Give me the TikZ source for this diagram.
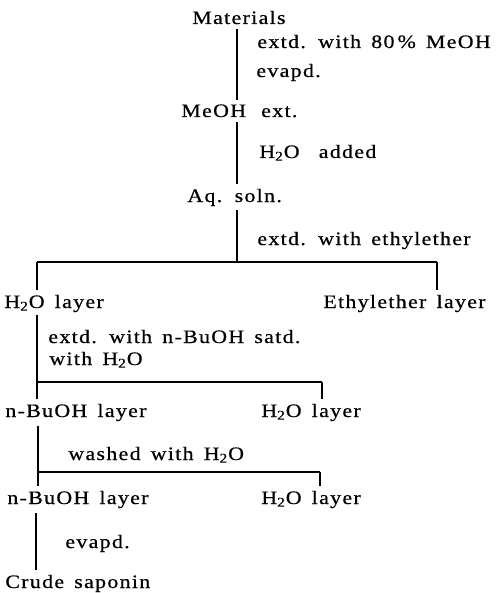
\documentclass[tikz,border=0pt]{standalone}
\usepackage{fontspec}
\setmainfont{Liberation Serif}[FakeStretch=1.15,LetterSpace=7,WordSpace=1.5,FakeBold=0.6]
\usetikzlibrary{positioning}
\tikzset{
  txt/.style={anchor=base west, inner sep=0pt, font=\fontsize{9.5}{11}\selectfont},
  conn/.style={line width=1pt},
  tonode/.style={conn, shorten >=2pt},
  trunk/.style={conn, shorten >=2pt, shorten <=2pt},
}

\begin{document}
\begin{tikzpicture}[x=0.5pt,y=-0.5pt]
  \useasboundingbox (0,0) rectangle (496,593);
  % fractions
  \node[txt] (mat) at (192,24) {Materials};
  \node[txt] (meoh) at (181,117) {MeOH\hspace{2.5pt} ext.};
  \node[txt] (aq) at (187,202) {Aq. soln.};
  \node[txt] (wat1) at (4,308) {H\textsubscript{2}O layer};
  \node[txt] (eth) at (323,308) {Ethylether layer};
  \node[txt] (but1) at (5,417) {n-BuOH layer};
  \node[txt] (wat2) at (261,417) {H\textsubscript{2}O layer};
  \node[txt] (but2) at (7,504) {n-BuOH layer};
  \node[txt] (wat3) at (261,504) {H\textsubscript{2}O layer};
  \node[txt] (crude) at (5,588) {Crude saponin};
  % operations
  \node[txt] (op1) at (257,48) {extd. with 80\,\% MeOH};
  \node[txt] (op1b) at (256,77) {evapd.};
  \node[txt] (op2) at (259,158) {H\textsubscript{2}O\hspace{4.5pt} added};
  \node[txt] (op3) at (257,245) {extd. with ethylether};
  \node[txt] (op4) at (48,343) {extd. with\ n-BuOH satd.};
  \node[txt] (op4b) at (49,365) {with H\textsubscript{2}O};
  \node[txt] (op5) at (68,460) {washed with H\textsubscript{2}O};
  \node[txt] (op6) at (65,548) {evapd.};
  % forks
  \coordinate (fork1) at (237,262);
  \coordinate (fork1l) at (37,262);
  \coordinate (fork1r) at (437,262);
  \coordinate (fork2l) at (37,382);
  \coordinate (fork2r) at (322,382);
  \coordinate (fork3l) at (38,472);
  \coordinate (fork3r) at (320,472);
  % lines
  \draw[trunk] (fork1 |- mat.south) -- (fork1 |- meoh.north);
  \draw[trunk] (fork1 |- meoh.south) -- (fork1 |- aq.north);
  \draw[conn, shorten <=2pt] (fork1 |- aq.south) -- (fork1);
  \draw[conn] (fork1l) -- (fork1r);
  \draw[tonode] (fork1l) -- (fork1l |- wat1.north);
  \draw[tonode] (fork1r) -- (fork1r |- eth.north);
  \draw[conn, shorten <=1pt] (fork1l |- wat1.south) -- (fork2l);
  \draw[conn] (fork2l) -- (fork2r);
  \draw[tonode] (fork2l) -- (fork2l |- but1.north);
  \draw[tonode] (fork2r) -- (fork2r |- wat2.north);
  \draw[conn, shorten <=2pt] (fork3l |- but1.south) -- (fork3l);
  \draw[conn] (fork3l) -- (fork3r);
  \draw[tonode] (fork3l) -- (fork3l |- but2.north);
  \draw[tonode] (fork3r) -- (fork3r |- wat3.north);
  \draw[trunk] ([xshift=-1pt]fork3l |- but2.south) -- ([xshift=-1pt]fork3l |- crude.north);
\end{tikzpicture}
\end{document}
